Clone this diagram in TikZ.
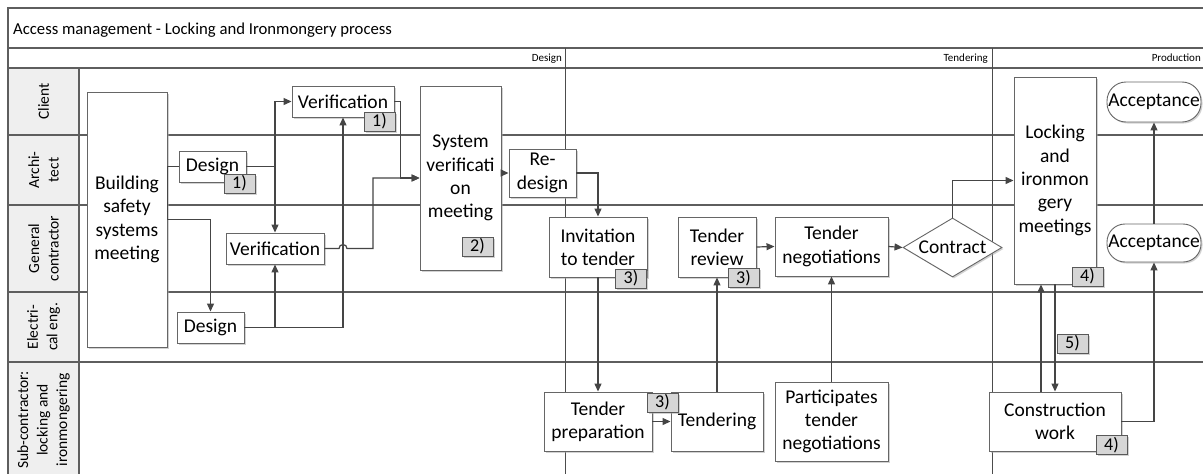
\documentclass[tikz,border=0pt]{standalone}
\usepackage{fontspec}
\setmainfont{Carlito}
\usetikzlibrary{arrows.meta,shapes.geometric,shadows,calc}
\newcommand{\bxfont}{\fontsize{19.5}{23.3}\selectfont}
\newcommand{\bdfont}{\fontsize{18}{20}\selectfont}
\newcommand{\lnfont}{\fontsize{15.5}{19.5}\selectfont}
\newcommand{\phfont}{\fontsize{11}{13}\selectfont}
\newcommand{\ttlfont}{\fontsize{16.7}{20}\selectfont}
\definecolor{linegray}{HTML}{5E5E5E}
\definecolor{conngray}{HTML}{454545}
\definecolor{hdrgray}{HTML}{EFEFEF}
\definecolor{badgegray}{HTML}{D6D6D6}
\begin{document}
\begin{tikzpicture}[x=1pt,y=-1pt,
  lane/.style={draw=linegray, line width=1.5pt},
  phase/.style={draw=black!70, line width=0.9pt},
  box/.style={draw=black!60, line width=0.9pt, fill=white, align=center, inner sep=0pt, font=\bxfont,
    drop shadow={shadow xshift=1.5pt, shadow yshift=-1.5pt, fill=black!35, opacity=0.5}},
  badge/.style={draw=black!65, fill=badgegray, line width=0.9pt, inner sep=0pt,
    minimum width=31pt, minimum height=19pt, font=\bdfont,
    drop shadow={shadow xshift=1.5pt, shadow yshift=-1.5pt, fill=black!35, opacity=0.5}},
  lanelabel/.style={rotate=90, align=center, font=\lnfont},
  conn/.style={draw=conngray, line width=1.2pt},
  arr/.style={conn, -{Triangle[length=8pt,width=7pt]}}
]
\useasboundingbox (0,0) rectangle (1203,474);
\clip (0,0) rectangle (1203,474);
\fill[white] (0,0) rectangle (1203,474);
\fill[hdrgray] (8,68) rectangle (79,478);
% frame and lanes
\draw[lane] (8,8) rectangle (1210,478);
\draw[lane] (8,48) -- (1210,48);
\draw[lane] (8,68) -- (1210,68);
\foreach \yy in {135,205,292,362} \draw[lane] (8,\yy) -- (1210,\yy);
\draw[lane] (79,68) -- (79,478);
\draw[phase] (565,48) -- (565,478);
\draw[phase] (992,48) -- (992,478);

% title and headers
\node[font=\ttlfont, anchor=base west, inner sep=0pt] (title) at (13,34.3) {Access management - Locking and Ironmongery process};
\node[font=\phfont, anchor=base east, inner sep=0pt] (phD) at (562,61.5) {Design};
\node[font=\phfont, anchor=base east, inner sep=0pt] (phT) at (988,61.5) {Tendering};
\node[font=\phfont, anchor=base east, inner sep=0pt] (phP) at (1201,61.5) {Production};

\node[lanelabel] (lClient) at (43.5,101.5) {Client};
\node[lanelabel] (lArch) at (43.5,170) {Archi-\\tect};
\node[lanelabel] (lGC) at (43.5,248.5) {General\\contractor};
\node[lanelabel] (lEl) at (43.5,327) {Electri-\\cal eng.};
\node[lanelabel] (lSub) at (43.5,420) {Sub-contractor:\\locking and\\ironmongering};

% process boxes
\node[box, minimum width=80pt, minimum height=255pt] (bss) at (127,219.5) {Building\\safety\\systems\\meeting};
\node[box, minimum width=102pt, minimum height=31pt] (ver1) at (343,101.5) {Verification};
\node[box, minimum width=67pt, minimum height=31pt] (des1) at (212.5,166.5) {Design};
\node[box, minimum width=98pt, minimum height=31pt] (ver2) at (275,248.5) {Verification};
\node[box, minimum width=67pt, minimum height=31pt] (des2) at (210.5,327.5) {Design};
\node[box, minimum width=81pt, minimum height=184pt] (svm) at (460.5,178) {System\\verificati\\on\\meeting};
\node[box, minimum width=67pt, minimum height=48pt] (red) at (542.5,173) {Re-\\design};
\node[box, minimum width=98pt, minimum height=60pt] (inv) at (598,247) {Invitation\\to tender};
\node[box, minimum width=78pt, minimum height=60pt] (trev) at (717,247) {Tender\\review};
\node[box, minimum width=113pt, minimum height=59pt] (tneg) at (831.5,246.5) {Tender\\negotiations};
\node[box, shape=diamond, aspect=1.68, minimum width=99pt, minimum height=59pt] (con) at (952.5,247.5) {Contract};
\node[box, minimum width=82pt, minimum height=207pt] (lim) at (1055,180.5) {Locking\\and\\ironmon\\gery\\meetings};
\node[box, rounded corners=19pt, minimum width=94pt, minimum height=40pt] (acc1) at (1154,102) {Acceptance};
\node[box, rounded corners=18pt, minimum width=94pt, minimum height=38pt] (acc2) at (1154,243) {Acceptance};
\node[box, minimum width=108pt, minimum height=59pt] (tprep) at (598,421.5) {Tender\\preparation};
\node[box, minimum width=92pt, minimum height=59pt] (tend) at (717,421.5) {Tendering};
\node[box, minimum width=113pt, minimum height=79pt] (part) at (831.5,421.5) {Participates\\tender\\negotiations};
\node[box, minimum width=132pt, minimum height=59pt] (cw) at (1055,421.5) {Construction\\work};

% badges
\node[badge] (bA) at (379.5,121.5) {1)};
\node[badge] (bB) at (239.5,183.5) {1)};
\node[badge] (bC) at (477.5,246.5) {2)};
\node[badge] (bD) at (631,278.5) {3)};
\node[badge] (bE) at (743.5,278) {3)};
\node[badge] (bF) at (662.5,402.5) {3)};
\node[badge] (bG) at (1087.5,276.5) {4)};
\node[badge] (bH) at (1072.5,343.5) {5)};
\node[badge] (bI) at (1111.5,445) {4)};

% connectors
\coordinate (j1) at (373,248.5);
\coordinate (cwu) at ($(cw.north)+(-14pt,0)$);
\draw[conn] (bss.east) |- (des1.west);
\draw[arr] (bss.east) -| (des2.north);
\draw[arr] (des1.east) -| (ver2.north);
\draw[arr] (des1.east) -- (des1.east -| ver2.north) |- (ver1.west);
\draw[arr] (des2.east) -| (ver2.south);
\draw[arr] (des2.east) -| (ver1.south);
\draw[arr] (ver2.east) -- ($(ver2.east -| ver1.south)+(-4pt,0)$) arc[start angle=180, end angle=0, radius=4pt] -- (j1) |- (svm.west);
\draw[arr] (ver1.east) -- ++(6pt,0) |- (svm.west);
\draw[arr] (svm.east |- red.west) -- (red.west);
\draw[arr] (red.east) -| (inv.north);
\draw[arr] (inv.south) -- (tprep.north);
\draw[arr] (tprep.east) -- (tend.west);
\draw[arr] (tend.north) -- (trev.south);
\draw[arr] (trev.east) -- (tneg.west);
\draw[arr] (part.north) -- (tneg.south);
\draw[arr] (tneg.east) -- (con.west);
\draw[arr] (con.north) |- (lim.west);
\draw[arr] (cwu) -- (cwu |- lim.south);
\draw[arr] (lim.south) -- (cw.north);
\draw[arr] (cw.east) -| (acc2.south);
\draw[arr] (acc2.north) -- (acc1.south);
\end{tikzpicture}
\end{document}
